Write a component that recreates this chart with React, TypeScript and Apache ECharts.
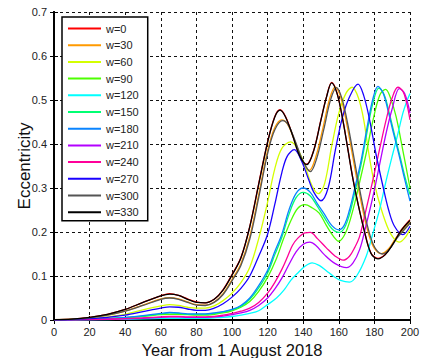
import React, { useEffect, useRef } from "react";
import * as echarts from "echarts";

const seriesNames = ["w=0", "w=30", "w=60", "w=90", "w=120", "w=150", "w=180", "w=210", "w=240", "w=270", "w=300", "w=330"];
const seriesColors = ["#ff0000", "#ff9a00", "#d4ff00", "#4dff00", "#00ffff", "#00ff73", "#0a84ff", "#b300ff", "#ff0099", "#1a00ff", "#555555", "#000000"];

const xTicks = [0, 20, 40, 60, 80, 100, 120, 140, 160, 180, 200];
const yTicks = [0, 0.1, 0.2, 0.3, 0.4, 0.5, 0.6, 0.7];

const w0 = [[0,0.001],[10,0.002],[20,0.006],[30,0.013],[40,0.024],[50,0.040],[60,0.055],[65,0.060],[70,0.056],[75,0.048],[80,0.041],[85,0.039],[90,0.047],[95,0.069],[100,0.103],[105,0.142],[110,0.213],[115,0.31],[120,0.405],[124,0.462],[127,0.478],[130,0.463],[134,0.421],[138,0.374],[142,0.354],[146,0.387],[150,0.456],[153,0.506],[156,0.540],[159,0.516],[162,0.461],[165,0.391],[168,0.320],[171,0.261],[174,0.209],[178,0.153],[182,0.140],[186,0.149],[190,0.171],[195,0.204],[200,0.228]];
const w30 = [[0,0.001],[10,0.002],[20,0.005],[30,0.011],[40,0.020],[50,0.034],[60,0.048],[65,0.051],[70,0.048],[75,0.041],[80,0.035],[85,0.034],[90,0.041],[95,0.060],[100,0.092],[105,0.128],[110,0.19],[115,0.285],[120,0.385],[124,0.437],[128,0.455],[131,0.446],[135,0.41],[139,0.368],[143.5,0.340],[147,0.37],[151,0.435],[155,0.505],[158,0.530],[161,0.507],[164,0.455],[167,0.39],[171,0.30],[174,0.24],[177,0.192],[180,0.163],[184,0.151],[188,0.162],[192,0.186],[196,0.205],[200,0.222]];
const w60 = [[0,0.0005],[10,0.001],[20,0.003],[30,0.007],[40,0.013],[50,0.023],[60,0.032],[65,0.035],[70,0.033],[75,0.029],[80,0.027],[85,0.027],[90,0.032],[95,0.044],[100,0.061],[105,0.085],[110,0.12],[115,0.185],[120,0.268],[124,0.343],[128,0.39],[133,0.405],[137,0.388],[141,0.35],[145,0.305],[148.5,0.287],[152,0.31],[156,0.395],[160,0.47],[164,0.515],[167.5,0.529],[171,0.505],[174,0.455],[177,0.375],[180,0.31],[184,0.25],[188,0.205],[191,0.185],[194,0.177],[197,0.186],[200,0.206]];
const w90 = [[0,0.0003],[10,0.0006],[20,0.0013],[30,0.0025],[40,0.005],[50,0.008],[60,0.012],[65,0.013],[70,0.013],[75,0.012],[80,0.011],[85,0.011],[90,0.013],[95,0.016],[100,0.021],[105,0.029],[110,0.042],[115,0.065],[120,0.097],[125,0.14],[129,0.185],[133,0.225],[137,0.254],[141,0.262],[145,0.255],[149,0.243],[153,0.215],[157,0.19],[160,0.179],[164,0.2],[168,0.251],[171.5,0.31],[175.4,0.379],[179,0.45],[183,0.511],[186.3,0.524],[189,0.505],[192.2,0.462],[196,0.385],[200,0.30]];
const w120 = [[0,0.0001],[10,0.0002],[20,0.0005],[30,0.001],[40,0.0015],[50,0.0025],[60,0.0035],[65,0.004],[70,0.004],[75,0.004],[80,0.004],[85,0.004],[90,0.005],[95,0.006],[100,0.008],[105,0.011],[110,0.015],[115,0.021],[120,0.035],[125,0.05],[129.4,0.069],[133,0.09],[137,0.107],[141,0.122],[145,0.13],[149,0.124],[153,0.112],[156.8,0.10],[161,0.09],[166,0.086],[170,0.1],[175.4,0.145],[179,0.195],[182.9,0.251],[186.5,0.315],[190.4,0.379],[193,0.42],[196,0.47],[198,0.495],[200,0.515]];
const w150 = [[0,0.0003],[10,0.0006],[20,0.0014],[30,0.003],[40,0.0055],[50,0.009],[60,0.014],[65,0.016],[70,0.015],[75,0.013],[80,0.013],[85,0.013],[90,0.015],[95,0.018],[100,0.023],[105,0.031],[110,0.047],[115,0.073],[120,0.107],[124,0.148],[128,0.188],[132,0.24],[136,0.278],[140,0.29],[144,0.282],[148,0.258],[152,0.232],[156,0.208],[160,0.199],[163,0.208],[166,0.24],[169,0.29],[172.6,0.355],[176,0.43],[179,0.49],[182.5,0.527],[185.5,0.512],[188.5,0.468],[191.5,0.418],[194.5,0.37],[197.5,0.32],[200,0.285]];
const w180 = [[0,0.0003],[10,0.0006],[20,0.0015],[30,0.003],[40,0.006],[50,0.01],[60,0.015],[65,0.017],[70,0.016],[75,0.014],[80,0.014],[85,0.014],[90,0.016],[95,0.019],[100,0.024],[105,0.033],[110,0.05],[115,0.078],[120,0.113],[124,0.155],[128,0.195],[132,0.25],[136,0.288],[140,0.30],[144,0.29],[148,0.264],[152,0.24],[156,0.215],[160,0.205],[163,0.215],[166,0.25],[169,0.30],[172.6,0.364],[176,0.44],[179,0.50],[182,0.531],[185,0.515],[188,0.47],[191,0.42],[194,0.372],[197,0.32],[200,0.27]];
const w210 = [[0,0.0002],[10,0.0003],[20,0.0008],[30,0.0015],[40,0.0025],[50,0.004],[60,0.006],[65,0.007],[70,0.007],[75,0.006],[80,0.006],[85,0.006],[90,0.007],[95,0.009],[100,0.012],[105,0.016],[110,0.022],[115,0.033],[120,0.05],[124,0.07],[128,0.095],[132,0.126],[136,0.155],[140,0.172],[143.7,0.177],[147,0.17],[152,0.148],[158,0.128],[164.3,0.119],[168,0.13],[171.7,0.16],[175,0.21],[179.2,0.281],[183,0.355],[186.6,0.425],[190,0.48],[194,0.526],[197,0.515],[200,0.47]];
const w240 = [[0,0.0002],[10,0.0004],[20,0.001],[30,0.002],[40,0.003],[50,0.005],[60,0.007],[65,0.008],[70,0.008],[75,0.007],[80,0.007],[85,0.007],[90,0.008],[95,0.011],[100,0.015],[105,0.02],[110,0.027],[115,0.04],[120,0.061],[124,0.085],[128,0.115],[131.3,0.145],[134,0.17],[137,0.186],[141,0.198],[144,0.199],[148,0.185],[153,0.164],[158,0.145],[162.4,0.136],[166,0.145],[169,0.165],[171.7,0.19],[175,0.245],[179.2,0.319],[183,0.39],[186.6,0.455],[190,0.505],[193.2,0.529],[196,0.52],[198,0.495],[200,0.455]];
const w270 = [[0,0.0005],[10,0.001],[20,0.003],[30,0.006],[40,0.011],[50,0.019],[60,0.027],[65,0.030],[70,0.029],[75,0.025],[80,0.022],[85,0.022],[90,0.027],[95,0.037],[100,0.052],[105,0.072],[110,0.100],[115,0.145],[120,0.195],[124,0.262],[128,0.335],[131,0.372],[135,0.387],[139,0.362],[143,0.32],[146,0.29],[150,0.271],[154,0.30],[158,0.385],[162,0.46],[166,0.507],[170.8,0.536],[174,0.51],[177.3,0.455],[181,0.375],[184.8,0.304],[188,0.25],[191.3,0.213],[196,0.194],[200,0.213]];
const w300 = [[0,0.001],[10,0.002],[20,0.005],[30,0.011],[40,0.020],[50,0.033],[60,0.047],[65,0.050],[70,0.047],[75,0.040],[80,0.034],[85,0.033],[90,0.040],[95,0.058],[100,0.089],[105,0.124],[110,0.184],[115,0.278],[120,0.378],[124,0.432],[128.5,0.453],[131.5,0.444],[135.5,0.407],[139.5,0.365],[144,0.337],[147.5,0.366],[151.5,0.432],[155.5,0.502],[158.8,0.528],[161.8,0.503],[164.8,0.45],[167.8,0.385],[171.8,0.295],[174.8,0.236],[177.8,0.189],[180.8,0.161],[184.5,0.150],[188.5,0.161],[192.5,0.185],[196.5,0.204],[200,0.22]];
const w330 = [[0,0.001],[10,0.002],[20,0.006],[30,0.013],[40,0.024],[50,0.040],[60,0.055],[65,0.059],[70,0.056],[75,0.047],[80,0.040],[85,0.039],[90,0.047],[95,0.068],[100,0.102],[105,0.141],[110,0.212],[115,0.308],[120,0.404],[124,0.461],[127,0.477],[130,0.462],[134,0.420],[138,0.373],[142,0.353],[146,0.386],[150,0.455],[153,0.505],[156,0.539],[159,0.515],[162,0.46],[165,0.39],[168,0.319],[171,0.26],[174,0.208],[178,0.152],[182,0.139],[186,0.148],[190,0.17],[195,0.203],[200,0.226]];

const seriesData = [w0, w30, w60, w90, w120, w150, w180, w210, w240, w270, w300, w330];

const FONT = "'Liberation Sans', Arial, Helvetica, sans-serif";

export default function App() {
  const ref = useRef<HTMLDivElement>(null);
  useEffect(() => {
    document.body.style.margin = "0";
    const chart = echarts.init(ref.current!, null, { renderer: "svg" });
    const interval = xTicks[1] - xTicks[0];
    const yInterval = yTicks[1] - yTicks[0];
    const tick = { show: true, inside: true, length: 4, lineStyle: { color: "#000", width: 1 } };
    chart.setOption({
      animation: false,
      backgroundColor: "#fff",
      textStyle: { fontFamily: FONT },
      grid: { left: 54, right: 11, top: 12, bottom: 38, containLabel: false, outerBoundsMode: "none" },
      legend: {
        orient: "vertical",
        left: 62,
        top: 17,
        data: seriesNames,
        icon: "rect",
        itemWidth: 33,
        itemHeight: 2,
        itemGap: 5.7,
        padding: [6, 9, 3, 6],
        backgroundColor: "#fff",
        borderColor: "#000",
        borderWidth: 1.5,
        borderRadius: 0,
        textStyle: { fontSize: 11, color: "#222", fontFamily: FONT, lineHeight: 11 },
      },
      xAxis: [
        {
          type: "value",
          min: xTicks[0],
          max: xTicks[xTicks.length - 1],
          interval,
          name: "Year from 1 August 2018",
          nameLocation: "middle",
          nameGap: 21,
          nameTextStyle: { fontSize: 16.5, color: "#111", fontFamily: FONT },
          axisLine: { show: true, lineStyle: { color: "#000", width: 2 } },
          axisTick: tick,
          axisLabel: { fontSize: 11, color: "#222", margin: 6, fontFamily: FONT },
          splitLine: { show: true, lineStyle: { color: "#111", type: [3, 3], width: 1 } },
        },
        {
          type: "value",
          position: "top",
          min: xTicks[0],
          max: xTicks[xTicks.length - 1],
          interval,
          axisLine: { show: true, lineStyle: { color: "#000", width: 1 } },
          axisTick: tick,
          axisLabel: { show: false },
          splitLine: { show: false },
        },
      ],
      yAxis: [
        {
          type: "value",
          min: yTicks[0],
          max: yTicks[yTicks.length - 1],
          interval: yInterval,
          name: "Eccentricity",
          nameLocation: "middle",
          nameGap: 21,
          nameMoveOverlap: false,
          nameTextStyle: { fontSize: 17, color: "#111", fontFamily: FONT },
          axisLine: { show: true, lineStyle: { color: "#000", width: 2 } },
          axisTick: tick,
          axisLabel: { fontSize: 11, color: "#222", margin: 7, fontFamily: FONT, formatter: (v: number) => String(Math.round(v * 10) / 10) },
          splitLine: { show: true, lineStyle: { color: "#111", type: [3, 3], width: 1 } },
        },
        {
          type: "value",
          position: "right",
          min: yTicks[0],
          max: yTicks[yTicks.length - 1],
          interval: yInterval,
          axisLine: { show: true, lineStyle: { color: "#000", width: 2 } },
          axisTick: tick,
          axisLabel: { show: false },
          splitLine: { show: false },
        },
      ],
      series: seriesNames.map((name, i) => ({
        name,
        type: "line",
        xAxisIndex: 0,
        yAxisIndex: 0,
        data: seriesData[i],
        smooth: 0.35,
        symbol: "none",
        showSymbol: false,
        clip: true,
        lineStyle: { color: seriesColors[i], width: 1.3 },
        itemStyle: { color: seriesColors[i] },
      })),
    });
    return () => chart.dispose();
  }, []);
  return <div ref={ref} style={{ width: 421, height: 358 }} />;
}
